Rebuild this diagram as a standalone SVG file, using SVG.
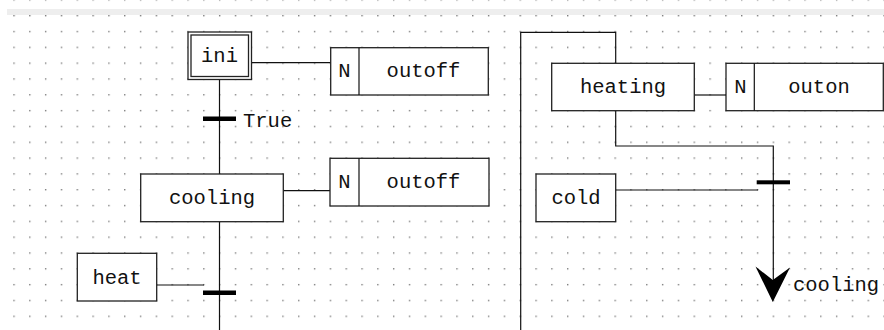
<svg xmlns="http://www.w3.org/2000/svg" width="884" height="330" viewBox="0 0 884 330">
  <style>
    .box { fill: #ffffff; stroke: #222222; stroke-width: 1.3; }
    .wire { fill: none; stroke: #111111; stroke-width: 1.2; }
    .bar { fill: #000000; }
    .lbl { font-family: "Liberation Mono", "Courier New", monospace; font-size: 20.5px; fill: #111111; }
    .mid { text-anchor: middle; }
  </style>
  <defs>
    <pattern id="grid" patternUnits="userSpaceOnUse" x="13.3" y="15" width="15.82" height="15.82">
      <rect x="0" y="0" width="1.4" height="1.4" fill="#7d7d7d"/>
    </pattern>
  </defs>

  <!-- background and editor grid -->
  <rect x="0" y="0" width="884" height="330" fill="#ffffff"/>
  <rect x="7" y="9" width="877" height="6" fill="#eeeeee"/>
  <rect x="0" y="0" width="884" height="330" fill="url(#grid)"/>

  <!-- connectors -->
  <g id="connectors">
    <line class="wire" x1="219.5" y1="79.5" x2="219.5" y2="174"/>
    <line class="wire" x1="219.5" y1="221.7" x2="219.5" y2="330"/>
    <line class="wire" x1="251.5" y1="62.7" x2="330.7" y2="62.7"/>
    <line class="wire" x1="283.3" y1="190.7" x2="330" y2="190.7"/>
    <line class="wire" x1="156.7" y1="285" x2="204" y2="285"/>
    <path class="wire" d="M520.7 330 V32.3 H615.7 V63.3"/>
    <line class="wire" x1="694.3" y1="95" x2="726" y2="95"/>
    <path class="wire" d="M615.7 110.7 V146 H773.3 V282"/>
    <line class="wire" x1="615.7" y1="190" x2="758" y2="190"/>
  </g>

  <!-- initial step -->
  <g id="step-ini">
    <rect class="box" x="188" y="32" width="63.5" height="47.5"/>
    <rect class="box" x="191" y="35" width="57.5" height="41.5"/>
    <text class="lbl mid" x="219.5" y="61.5">ini</text>
  </g>

  <g id="action-ini">
    <rect class="box" x="330.7" y="47.7" width="157.6" height="47.3"/>
    <line class="wire" x1="359" y1="47.7" x2="359" y2="95"/>
    <text class="lbl mid" x="344.5" y="77">N</text>
    <text class="lbl mid" x="423.5" y="77">outoff</text>
  </g>

  <g id="transition-true">
    <rect class="bar" x="203" y="116.5" width="33" height="4.5"/>
    <text class="lbl" x="243" y="126.5">True</text>
  </g>

  <g id="step-cooling">
    <rect class="box" x="140.7" y="174" width="142.6" height="47.7"/>
    <text class="lbl mid" x="212" y="204">cooling</text>
  </g>

  <g id="action-cooling">
    <rect class="box" x="330" y="158.3" width="159" height="47.7"/>
    <line class="wire" x1="359" y1="158.3" x2="359" y2="206"/>
    <text class="lbl mid" x="344.5" y="188">N</text>
    <text class="lbl mid" x="423.5" y="188">outoff</text>
  </g>

  <g id="condition-heat">
    <rect class="box" x="77.3" y="253.3" width="79.4" height="47.7"/>
    <text class="lbl mid" x="117" y="283.5">heat</text>
  </g>

  <g id="transition-heat">
    <rect class="bar" x="203" y="290.5" width="33" height="4.5"/>
  </g>

  <g id="step-heating">
    <rect class="box" x="551.7" y="63.3" width="142.6" height="47.4"/>
    <text class="lbl mid" x="623" y="93">heating</text>
  </g>

  <g id="action-heating">
    <rect class="box" x="726" y="63.3" width="157.3" height="47.4"/>
    <line class="wire" x1="754.3" y1="63.3" x2="754.3" y2="110.7"/>
    <text class="lbl mid" x="740.5" y="93">N</text>
    <text class="lbl mid" x="819" y="93">outon</text>
  </g>

  <g id="condition-cold">
    <rect class="box" x="536" y="174" width="79.7" height="47.7"/>
    <text class="lbl mid" x="576" y="203.5">cold</text>
  </g>

  <g id="transition-cold">
    <rect class="bar" x="756.7" y="180.3" width="33.3" height="4"/>
  </g>

  <g id="jump-cooling">
    <polygon fill="#000000" points="755.5,266.5 772.8,280 790,267.5 772.8,302"/>
    <text class="lbl" x="793" y="290.5">cooling</text>
  </g>
</svg>
